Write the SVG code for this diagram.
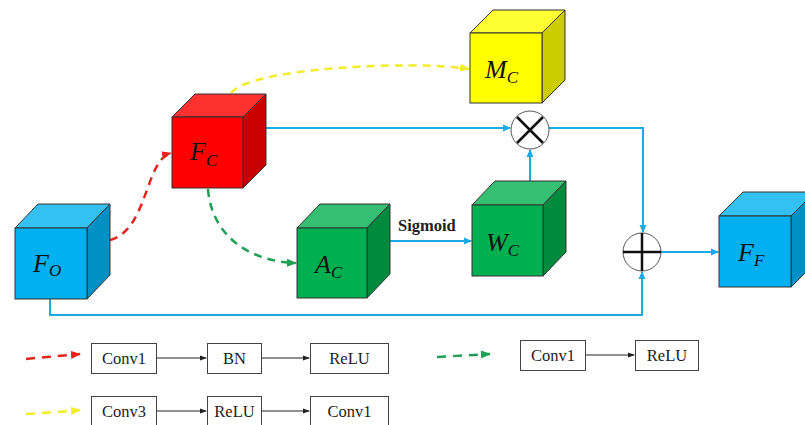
<svg xmlns="http://www.w3.org/2000/svg" width="805" height="425" viewBox="0 0 805 425">
<defs>
<style>
.edge{stroke:#333;stroke-width:1}
.conn{fill:none;stroke:#1FA9E1;stroke-width:2}
.lbl{font-family:"Liberation Serif","DejaVu Serif",serif;font-style:italic;font-size:26px;fill:#111}
.sub{font-size:17px}
.box{fill:#fff;stroke:#444;stroke-width:1}
.bt{font-family:"Liberation Serif","Times New Roman",serif;font-size:16.5px;fill:#222;text-anchor:middle}
.blk{fill:none;stroke:#222;stroke-width:1}
</style>
<marker id="ab" markerWidth="8" markerHeight="8" refX="7" refY="4" orient="auto" markerUnits="userSpaceOnUse"><path d="M0,0.5 L8,4 L0,7.5 Z" fill="#1FA9E1"/></marker>
<marker id="ak" markerWidth="7" markerHeight="6" refX="6" refY="3" orient="auto" markerUnits="userSpaceOnUse"><path d="M0,0.5 L7,3 L0,5.5 Z" fill="#222"/></marker>
<marker id="ar" markerWidth="10" markerHeight="8" refX="9" refY="4" orient="auto" markerUnits="userSpaceOnUse"><path d="M0,0 L10,4 L0,8 Z" fill="#E8221D"/></marker>
<marker id="ay" markerWidth="10" markerHeight="8" refX="9" refY="4" orient="auto" markerUnits="userSpaceOnUse"><path d="M0,0 L10,4 L0,8 Z" fill="#F2EC2A"/></marker>
<marker id="ag" markerWidth="10" markerHeight="8" refX="9" refY="4" orient="auto" markerUnits="userSpaceOnUse"><path d="M0,0 L10,4 L0,8 Z" fill="#1FA055"/></marker>
</defs>
<rect width="805" height="425" fill="#fff"/>

<g id="connectors">
<path class="conn" d="M266,128 L510,128" marker-end="url(#ab)"/>
<path class="conn" d="M549,128 L643,128 L643,232" marker-end="url(#ab)"/>
<path class="conn" d="M530,182 L530,150" marker-end="url(#ab)"/>
<path class="conn" d="M661,252 L718,252" marker-end="url(#ab)"/>
<path class="conn" d="M50,299 L50,315 L642,315 L642,272" marker-end="url(#ab)"/>
<path class="conn" d="M390,241 L471,241" marker-end="url(#ab)"/>
<text x="398" y="231" font-family="Liberation Serif,Times New Roman,serif" font-weight="bold" font-size="16.5" fill="#222">Sigmoid</text>
<path d="M110,240 C148,230 145,160 171,153" fill="none" stroke="#E8221D" stroke-width="2.5" stroke-dasharray="8,6" marker-end="url(#ar)"/>
<path d="M231,93 C250,68 410,60 469,69" fill="none" stroke="#F2EC2A" stroke-width="2.5" stroke-dasharray="8,6" marker-end="url(#ay)"/>
<path d="M208,189 C212,240 255,262 296,263" fill="none" stroke="#1FA055" stroke-width="2.5" stroke-dasharray="8,6" marker-end="url(#ag)"/>
</g>

<g id="FO">
<polygon class="edge" points="15,228 38,204 110,204 87,228" fill="#35C0F2"/>
<polygon class="edge" points="87,228 110,204 110,275 87,299" fill="#0090C6"/>
<rect class="edge" x="15" y="228" width="72" height="71" fill="#00B0F0"/>
<text class="lbl" x="33" y="272">F<tspan class="sub" dy="4">O</tspan></text>
</g>

<g id="FC">
<polygon class="edge" points="172,117 195,94 266,94 243,117" fill="#FF3030"/>
<polygon class="edge" points="243,117 266,94 266,165 243,188" fill="#C80000"/>
<rect class="edge" x="172" y="117" width="71" height="71" fill="#FF0000"/>
<text class="lbl" x="190" y="160">F<tspan class="sub" dy="6">C</tspan></text>
</g>

<g id="MC">
<polygon class="edge" points="470,33 493,10 565,10 542,33" fill="#FFFF33"/>
<polygon class="edge" points="542,33 565,10 565,80 542,103" fill="#CCCC00"/>
<rect class="edge" x="470" y="33" width="72" height="70" fill="#FFFF00"/>
<text class="lbl" x="485" y="78">M<tspan class="sub" dy="5">C</tspan></text>
</g>

<g id="AC">
<polygon class="edge" points="297,228 320,204 390,204 367,228" fill="#35BF73"/>
<polygon class="edge" points="367,228 390,204 390,274 367,298" fill="#008A3E"/>
<rect class="edge" x="297" y="228" width="70" height="70" fill="#00B050"/>
<text class="lbl" x="315" y="273">A<tspan class="sub" dy="5">C</tspan></text>
</g>

<g id="WC">
<polygon class="edge" points="472,205 495,181 566,181 543,205" fill="#35BF73"/>
<polygon class="edge" points="543,205 566,181 566,252 543,276" fill="#008A3E"/>
<rect class="edge" x="472" y="205" width="71" height="71" fill="#00B050"/>
<text class="lbl" x="486" y="251">W<tspan class="sub" dy="5">C</tspan></text>
</g>

<g id="FF">
<polygon class="edge" points="719,216 743,192 815,192 791,216" fill="#35C0F2"/>
<polygon class="edge" points="791,216 815,192 815,263 791,287" fill="#0090C6"/>
<rect class="edge" x="719" y="216" width="72" height="71" fill="#00B0F0"/>
<text class="lbl" x="738" y="261">F<tspan class="sub" dy="5">F</tspan></text>
</g>

<g id="otimes">
<circle cx="530" cy="130" r="19" fill="#fff" stroke="#555" stroke-width="1"/>
<path d="M517,117 L543,143 M543,117 L517,143" stroke="#111" stroke-width="2.5"/>
</g>

<g id="oplus">
<circle cx="642" cy="252" r="19" fill="#fff" stroke="#555" stroke-width="1"/>
<path d="M623,252 L661,252 M642,233 L642,271" stroke="#111" stroke-width="2.5"/>
</g>

<g id="legend">
<path d="M26,359 C45,357 60,356 80,354" fill="none" stroke="#E8221D" stroke-width="2.5" stroke-dasharray="9,7" marker-end="url(#ar)"/>
<path d="M26,414 C45,413 60,412 80,410" fill="none" stroke="#F2EC2A" stroke-width="2.5" stroke-dasharray="9,7" marker-end="url(#ay)"/>
<path d="M437,357 C455,356 470,355 490,354" fill="none" stroke="#1FA055" stroke-width="2.5" stroke-dasharray="9,7" marker-end="url(#ag)"/>
</g>

<g id="box-conv1-a"><rect class="box" x="91.5" y="343.5" width="65" height="30"/><text class="bt" x="124" y="364">Conv1</text></g>
<g id="box-bn"><rect class="box" x="207.5" y="343.5" width="54" height="30"/><text class="bt" x="234.5" y="364">BN</text></g>
<g id="box-relu-a"><rect class="box" x="310.5" y="343.5" width="78" height="30"/><text class="bt" x="349.5" y="364">ReLU</text></g>
<g id="box-conv3"><rect class="box" x="91.5" y="396.5" width="65" height="30"/><text class="bt" x="124" y="417">Conv3</text></g>
<g id="box-relu-b"><rect class="box" x="207.5" y="396.5" width="54" height="30"/><text class="bt" x="234.5" y="417">ReLU</text></g>
<g id="box-conv1-b"><rect class="box" x="310.5" y="396.5" width="78" height="30"/><text class="bt" x="349.5" y="417">Conv1</text></g>
<g id="box-conv1-c"><rect class="box" x="520.5" y="340.5" width="65" height="30"/><text class="bt" x="553" y="361">Conv1</text></g>
<g id="box-relu-c"><rect class="box" x="635.5" y="340.5" width="63" height="30"/><text class="bt" x="667" y="361">ReLU</text></g>

<g id="legend-connectors">
<path class="blk" d="M157,358 L206,358" marker-end="url(#ak)"/>
<path class="blk" d="M262,358 L309,358" marker-end="url(#ak)"/>
<path class="blk" d="M157,411 L206,411" marker-end="url(#ak)"/>
<path class="blk" d="M262,411 L309,411" marker-end="url(#ak)"/>
<path class="blk" d="M586,355 L634,355" marker-end="url(#ak)"/>
</g>
</svg>
